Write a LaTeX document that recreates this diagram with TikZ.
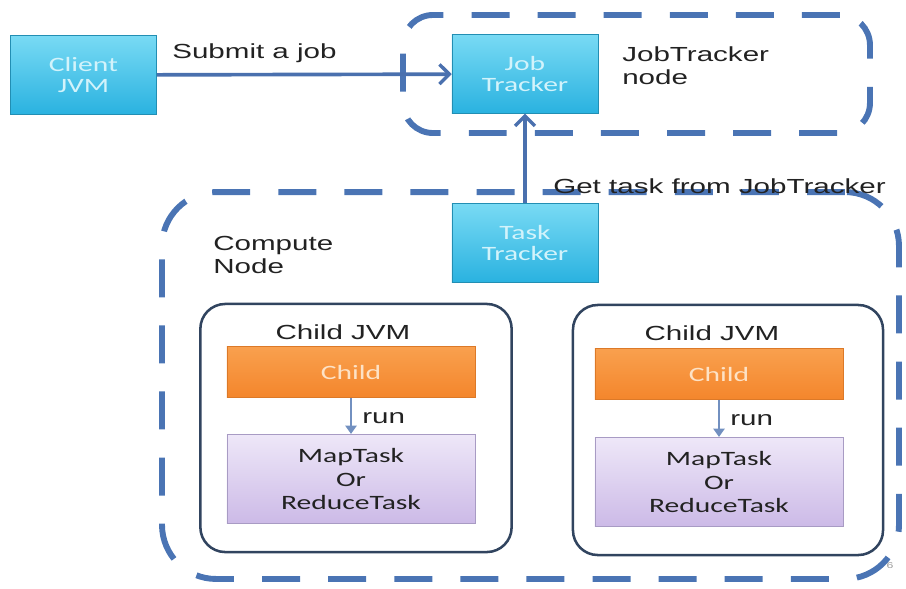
\documentclass[tikz,border=0pt]{standalone}
\usepackage{fontspec}
\setmainfont{Liberation Sans}[FakeStretch=1.45]
\newfontfamily\boxfont{Carlito}[FakeStretch=1.45]
\usepackage{tikz}
\usetikzlibrary{arrows.meta}
\pgfdeclarelayer{edgelayer}
\pgfdeclarelayer{nodelayer}
\pgfsetlayers{edgelayer,nodelayer,main}
\definecolor{dashblue}{HTML}{4A74B4}
\definecolor{arrowblue}{HTML}{4A70AE}
\definecolor{runblue}{HTML}{7290C0}
\definecolor{jvmline}{HTML}{31445F}
\definecolor{cyantop}{HTML}{78DAF4}
\definecolor{cyanbot}{HTML}{2AB2E0}
\definecolor{cyantext}{HTML}{D2F3FB}
\definecolor{orangetop}{HTML}{F9A04E}
\definecolor{orangebot}{HTML}{F4862C}
\definecolor{orangetext}{HTML}{FDE2C6}
\definecolor{lilactop}{HTML}{EEE7F8}
\definecolor{lilacbot}{HTML}{CCBAE7}
\definecolor{lilacline}{HTML}{A89BC4}
\definecolor{labeltext}{HTML}{222222}
\tikzstyle{tracker}=[rectangle, draw=cyanbot!80!black, line width=0.4pt, top color=cyantop, bottom color=cyanbot, text=cyantext, font=\boxfont\fontsize{14.5}{15.5}\selectfont, align=center, inner sep=0pt, minimum width=3.65cm, minimum height=1.97cm]
\tikzstyle{child}=[rectangle, draw=orangebot!90!black, line width=0.3pt, top color=orangetop, bottom color=orangebot, text=orangetext, font=\boxfont\fontsize{14.5}{16}\selectfont, inner sep=0pt, minimum width=6.2cm, minimum height=1.27cm]
\tikzstyle{task}=[rectangle, draw=lilacline, line width=0.6pt, top color=lilactop, bottom color=lilacbot, text=labeltext, font=\boxfont\fontsize{14.5}{16.4}\selectfont, align=center, inner sep=0pt, minimum width=6.2cm, minimum height=2.23cm]
\tikzstyle{jvm}=[rectangle, draw=jvmline, line width=1.8pt, rounded corners=0.62cm, inner sep=0pt, minimum width=7.78cm, minimum height=6.2cm]
\tikzstyle{machine}=[rectangle, draw=dashblue, line width=4.2pt, dash pattern=on 27pt off 20pt, inner sep=0pt]
\tikzstyle{label}=[inner sep=0pt, text=labeltext, font=\fontsize{14.5}{16.4}\selectfont, align=left]
\tikzstyle{bigarrow}=[draw=arrowblue, line width=2.6pt, -{Straight Barb[length=7pt, width=14pt, line width=2.4pt]}]
\tikzstyle{runarrow}=[draw=runblue, line width=1.6pt, -{Triangle[length=6pt, width=8pt]}]

\begin{document}
\begin{tikzpicture}[x=0.025cm, y=-0.025cm]
	\useasboundingbox (0, 0) rectangle (906, 588);
	\begin{pgfonlayer}{edgelayer}
		\node [style=machine, rounded corners=0.75cm, minimum width=11.67cm, minimum height=2.95cm] (jtnode) at (636.5, 74) {};
		\node [style=machine, rounded corners=1.35cm, minimum width=18.42cm, minimum height=9.67cm] (compute) at (530.5, 385.5) {};
		\node [style=jvm] (jvmleft) at (356, 428) {};
		\node [style=jvm, minimum width=7.75cm, minimum height=6.25cm] (jvmright) at (728, 430) {};
	\end{pgfonlayer}
	\begin{pgfonlayer}{nodelayer}
		\node [style=tracker] (client) at (83.5, 75) {Client\\JVM};
		\node [style=tracker] (jobtracker) at (525, 74) {Job\\Tracker};
		\node [style=tracker] (tasktracker) at (525, 243) {Task\\Tracker};
		\node [style=child] (childleft) at (351, 372) {Child};
		\node [style=task] (taskleft) at (351, 479) {MapTask\\Or\\ReduceTask};
		\node [style=child] (childright) at (719, 374) {Child};
		\node [style=task] (taskright) at (719, 482) {MapTask\\Or\\ReduceTask};
		\node [style=label, anchor=base west] (submit) at (172, 58) {Submit a job};
		\node [style=label, anchor=north west] (jtlabel) at (622, 46) {JobTracker\\node};
		\node [style=label, anchor=base west] (gettask) at (553, 193) {Get task from JobTracker};
		\node [style=label, anchor=north west] (cnlabel) at (213, 236) {Compute\\Node};
		\node [style=label, anchor=base] (jvmlabelleft) at (343, 339) {Child JVM};
		\node [style=label, anchor=base] (jvmlabelright) at (712, 340) {Child JVM};
		\node [style=label, anchor=base west] (runleft) at (362, 423) {run};
		\node [style=label, anchor=base west] (runright) at (730, 425) {run};
		\node [inner sep=0pt, text=black!40, font=\fontsize{6}{7}\selectfont] (slide) at (890, 566) {6};
	\end{pgfonlayer}
	\draw [style=bigarrow] (client) to (jobtracker);
	\draw [style=bigarrow] (tasktracker) to (jobtracker);
	\draw [style=runarrow] (childleft) to (taskleft);
	\draw [style=runarrow] (childright) to (taskright);
\end{tikzpicture}
\end{document}
